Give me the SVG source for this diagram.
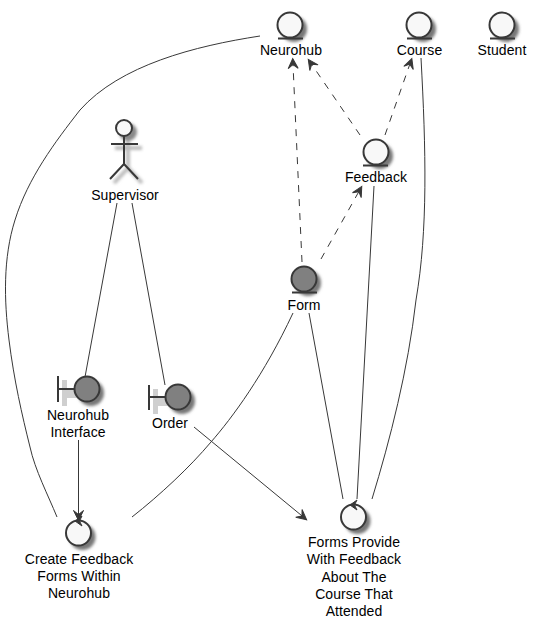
<svg xmlns="http://www.w3.org/2000/svg" width="538" height="629" viewBox="0 0 538 629">
<style>
text{font-family:"Liberation Sans",Arial,sans-serif;font-size:14px;fill:#000;text-anchor:middle;letter-spacing:.08px}
.s{fill:none;stroke:#383838;stroke-width:2}
.c{fill:#F8F8F8;stroke:#383838;stroke-width:2}
.g{fill:#808080;stroke:#383838;stroke-width:2}
.l{fill:none;stroke:#383838;stroke-width:1}
.d{stroke-dasharray:7 7}
.b{fill:#cfcfcf}
</style>
<defs>
<filter id="sh" x="-40%" y="-40%" width="180%" height="180%"><feGaussianBlur stdDeviation="1.600"/></filter>
<marker id="a" viewBox="0 0 13 12" markerUnits="userSpaceOnUse" markerWidth="13" markerHeight="12" refX="12" refY="6" orient="auto"><path d="M1.500 1L11.500 6L1.500 11L5.500 6Z" fill="#383838" stroke="#383838"/></marker>
<g id="eShadow"><circle cx="4" cy="4" r="13" fill="#777" filter="url(#sh)"/></g>
<g id="cv"><path d="M6 -5L-1 0L6 5L3.500 0Z" fill="#383838" stroke="#383838"/></g>
</defs>
<g id="connectors">
<path class="l" d="M260 36C195 46 120 65 80 110C55 142 28 178 15 220C3 258 4 300 9 340C14 380 22 415 30 447C35 470 48 495 57 517"/>
<path class="l" d="M293 313C264 375 232 418 211 442C190 467 160 495 132 517"/>
<path class="l" d="M309 313L343 499"/>
<path class="l" d="M374 186L357 499"/>
<path class="l" d="M421 58C426 150 428 230 416 300C408 370 390 440 372 499"/>
<path class="l" d="M117 203L85 377"/>
<path class="l" d="M132 203L165 385"/>
<path class="l d" d="M302 262L292.700 58" marker-end="url(#a)"/>
<path class="l d" d="M360 135L308 59" marker-end="url(#a)"/>
<path class="l d" d="M385 135L412 58" marker-end="url(#a)"/>
<path class="l d" d="M321 259L362 186" marker-end="url(#a)"/>
<path class="l" d="M194 427L307 520" marker-end="url(#a)"/>
<path class="l" d="M78.500 440L78.500 521" marker-end="url(#a)"/>
</g>
<g id="neurohub"><use href="#eShadow" x="290" y="25"/><circle class="c" cx="290" cy="25" r="12.500"/><path class="s" d="M278 38.500H303"/><text x="291" y="55">Neurohub</text></g>
<g id="course"><use href="#eShadow" x="419" y="25"/><circle class="c" cx="419" cy="25" r="12.500"/><path class="s" d="M407 38.500H432"/><text x="419.500" y="55">Course</text></g>
<g id="student"><use href="#eShadow" x="502" y="25"/><circle class="c" cx="502" cy="25" r="12.500"/><path class="s" d="M490 38.500H515"/><text x="502" y="55">Student</text></g>
<g id="feedback"><use href="#eShadow" x="376" y="152"/><circle class="c" cx="376" cy="152" r="12.500"/><path class="s" d="M363 165.500H388"/><text x="376" y="182">Feedback</text></g>
<g id="form"><use href="#eShadow" x="304" y="279"/><circle class="g" cx="304" cy="279" r="12.500"/><path class="s" d="M292 292.500H317"/><text x="304" y="310">Form</text></g>
<g id="supervisor">
<g filter="url(#sh)" transform="translate(4 4)"><path d="M124 136V164M111 144H138M124 164L110 179M124 164L138 179" fill="none" stroke="#bbb" stroke-width="4"/><circle cx="124" cy="128" r="9" fill="#888"/></g>
<circle class="c" cx="124" cy="128" r="8"/><path class="s" d="M124 136V164M111 144H138M124 164L110 179M124 164L138 179"/><text x="125" y="200">Supervisor</text></g>
<g id="neurohub-interface"><path class="b" d="M62 380H67V406H62ZM67 390H80V398H67Z"/><use href="#eShadow" x="87" y="389"/><circle class="g" cx="87" cy="389" r="12.500"/><path class="s" d="M58 376V402M58 389H75"/><text x="78" y="420">Neurohub</text><text x="78" y="437">Interface</text></g>
<g id="order"><path class="b" d="M153 389H158V414H153ZM158 398H171V406H158Z"/><use href="#eShadow" x="178" y="397"/><circle class="g" cx="178" cy="397" r="12.500"/><path class="s" d="M149 385V410M149 397H166"/><text x="170" y="428">Order</text></g>
<g id="create"><use href="#eShadow" x="78.500" y="533"/><circle class="c" cx="78.500" cy="533" r="12.500"/><use href="#cv" x="76" y="521"/><text x="79" y="564">Create Feedback</text><text x="79" y="581">Forms Within</text><text x="79" y="598">Neurohub</text></g>
<g id="forms-provide"><use href="#eShadow" x="353.500" y="517"/><circle class="c" cx="353.500" cy="517" r="12.500"/><use href="#cv" x="351" y="505"/><text x="354" y="547">Forms Provide</text><text x="354" y="564">With Feedback</text><text x="354" y="582">About The</text><text x="354" y="599">Course That</text><text x="354" y="616">Attended</text></g>
</svg>
